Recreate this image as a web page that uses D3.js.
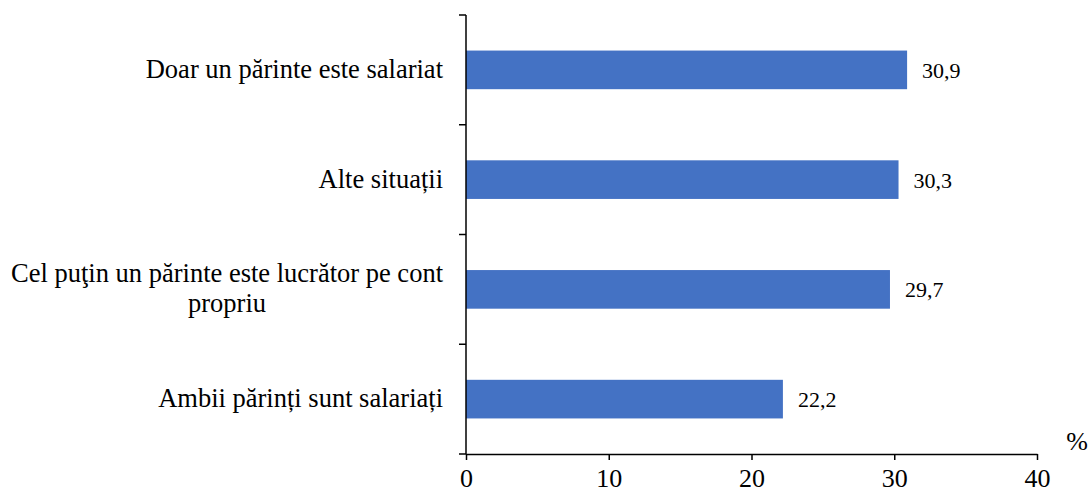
<!DOCTYPE html>
<html>
<head>
<meta charset="utf-8">
<script src="https://cdn.jsdelivr.net/npm/d3@7"></script>
<style>
  body { margin: 0; background: #fff; }
  svg { display: block; }
</style>
</head>
<body>
<div id="chart_div"></div>
<script>
// Data
const categories = [
  "Doar un părinte este salariat",
  "Alte situații",
  "Cel puţin un părinte este lucrător pe cont propriu",
  "Ambii părinți sunt salariați"
];
const values = [30.9, 30.3, 29.7, 22.2];
const xTicks = [0, 10, 20, 30, 40];

const width = 1089;
const height = 494;
const marginLeft = 466;
const marginTop = 15;
const plotBottom = 454;
const plotRight = 1037;
const serif = "'Liberation Serif'";

const svg = d3.select("#chart_div").append("svg")
  .attr("width", width)
  .attr("height", height);

const x = d3.scaleLinear().domain([0, 40]).range([marginLeft, plotRight]);
const y = d3.scaleBand()
  .domain(categories)
  .range([marginTop, plotBottom])
  .paddingInner(0.648)
  .paddingOuter(0.324);

// Bars
svg.append("g")
  .selectAll("rect")
  .data(values)
  .join("rect")
  .attr("x", x(0))
  .attr("y", (d, i) => y(categories[i]))
  .attr("width", d => x(d) - x(0))
  .attr("height", y.bandwidth())
  .attr("fill", "#4472C4");

// Value labels
svg.append("g")
  .selectAll("text")
  .data(values)
  .join("text")
  .attr("x", d => x(d) + 15)
  .attr("y", (d, i) => y(categories[i]) + y.bandwidth() / 2)
  .attr("dy", "0.36em")
  .attr("font-size", 22)
  .style("font-family", serif)
  .attr("fill", "#000")
  .text(d => d.toFixed(1).replace(".", ","));

// X axis
const xAxis = svg.append("g")
  .attr("transform", `translate(0,${plotBottom})`)
  .call(d3.axisBottom(x).tickValues(xTicks).tickSize(6).tickPadding(9).tickSizeOuter(0));
xAxis.select(".domain").attr("stroke", "#000").attr("stroke-width", 1.5);
xAxis.selectAll(".tick line").attr("stroke", "#000").attr("stroke-width", 1.5);
xAxis.selectAll(".tick text")
  .style("font-family", serif)
  .attr("font-size", 26)
  .attr("fill", "#000");

// Y axis line and ticks on category boundaries
const gy = svg.append("g");
gy.append("line")
  .attr("x1", marginLeft).attr("x2", marginLeft)
  .attr("y1", marginTop).attr("y2", plotBottom)
  .attr("stroke", "#000").attr("stroke-width", 1.5);
const bounds = d3.range(categories.length + 1).map(i => marginTop + i * y.step());
gy.selectAll(".bt")
  .data(bounds)
  .join("line")
  .attr("class", "bt")
  .attr("x1", marginLeft - 7).attr("x2", marginLeft)
  .attr("y1", d => d).attr("y2", d => d)
  .attr("stroke", "#000").attr("stroke-width", 1.5);

// Category labels (wrapped when too long)
const labelGap = 23;
const maxLabelWidth = 450;
const lineHeight = 30;
const labels = gy.selectAll(".cat")
  .data(categories)
  .join("text")
  .attr("class", "cat")
  .attr("font-size", 26.5)
  .style("font-family", serif)
  .attr("fill", "#000")
  .attr("text-anchor", "end")
  .attr("x", marginLeft - labelGap)
  .attr("y", d => y(d) + y.bandwidth() / 2)
  .attr("dy", "0.3em")
  .text(d => d);

labels.each(function(d) {
  const text = d3.select(this);
  if (this.getComputedTextLength() <= maxLabelWidth) return;
  const words = d.split(" ");
  const lines = [];
  let line = [];
  text.text(null);
  const probe = text.append("tspan");
  words.forEach(w => {
    line.push(w);
    probe.text(line.join(" "));
    if (probe.node().getComputedTextLength() > maxLabelWidth && line.length > 1) {
      line.pop();
      lines.push(line.join(" "));
      line = [w];
    }
  });
  lines.push(line.join(" "));
  probe.remove();
  // measure widest line to center the block like the original
  let widest = 0;
  lines.forEach(l => {
    const t = text.append("tspan").text(l);
    widest = Math.max(widest, t.node().getComputedTextLength());
    t.remove();
  });
  const cx = marginLeft - labelGap - widest / 2;
  const cy = y(d) + y.bandwidth() / 2;
  const firstY = cy - (lines.length - 1) * lineHeight / 2;
  text.attr("text-anchor", "middle").attr("y", null).attr("dy", null);
  lines.forEach((l, i) => {
    text.append("tspan")
      .attr("x", cx)
      .attr("y", firstY + i * lineHeight)
      .attr("dy", "0.3em")
      .text(l);
  });
});

// Unit label
svg.append("text")
  .attr("x", 1077)
  .attr("y", 450)
  .attr("text-anchor", "middle")
  .attr("font-size", 26)
  .style("font-family", serif)
  .attr("fill", "#000")
  .text("%");
</script>
</body>
</html>
